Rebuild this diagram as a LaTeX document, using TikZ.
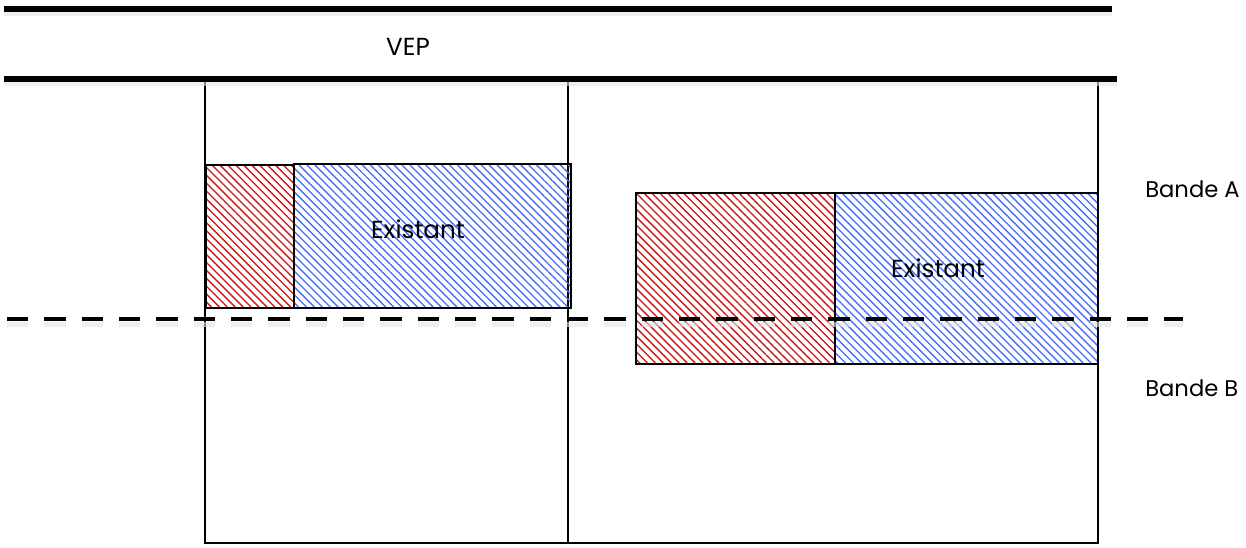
\documentclass[tikz,border=0pt]{standalone}
\usepackage{fontspec}
\setmainfont{Poppins}
\usetikzlibrary{patterns.meta}
\definecolor{hred}{RGB}{205,20,20}
\definecolor{hblue}{RGB}{70,110,250}
\tikzset{
  lot/.style={draw=black, line width=1.2pt},
  redzone/.style={draw=black, line width=1.3pt, pattern={Lines[angle=-45,distance=4.2pt,line width=1pt]}, pattern color=hred},
  bluezone/.style={draw=black, line width=1.3pt, pattern={Lines[angle=-45,distance=4.2pt,line width=1pt]}, pattern color=hblue},
  road/.style={line width=4pt, black},
  shadowline/.style={line width=4pt, black!10, opacity=0.6},
  limit/.style={line width=3.4pt, dash pattern=on 16pt off 12pt, black},
  lbl/.style={font=\fontsize{18.5pt}{20pt}\selectfont, inner sep=0pt},
  sidelbl/.style={font=\fontsize{17pt}{19pt}\selectfont, inner sep=0pt, anchor=west}
}
\begin{document}
\begin{tikzpicture}[x=0.75pt,y=-0.75pt]
\useasboundingbox (0,0) rectangle (1246,547);
% lots
\draw[lot] (205,79) rectangle (568,543);
\draw[lot] (568,79) rectangle (1098,543);
% zones
\node[redzone, minimum width=66pt, minimum height=107.25pt, inner sep=0pt, anchor=north west] (r1) at (205,164) {};
\node[bluezone, minimum width=207.75pt, minimum height=108pt, inner sep=0pt, anchor=north west] (b1) at (293,163) {};
\node[lbl] (e1) at (418,229) {Existant};
\node[redzone, minimum width=149.25pt, minimum height=128.25pt, inner sep=0pt, anchor=north west] (r2) at (635,192) {};
\node[bluezone, minimum width=197.25pt, minimum height=128.25pt, inner sep=0pt, anchor=north west] (b2) at (834,192) {};
\node[lbl] (e2) at (938,268) {Existant};
% roads
\coordinate (t1) at (4,9); \coordinate (t2) at (1112,9);
\coordinate (v1) at (4,79); \coordinate (v2) at (1117,79);
\draw[shadowline] ([yshift=-3pt]t1) -- ([yshift=-3pt]t2);
\draw[shadowline] ([yshift=-3pt]v1) -- ([yshift=-3pt]v2);
\draw[road] (t1) -- (t2);
\draw[road] (v1) -- (v2);
\node[lbl] (vep) at (408,47) {VEP};
% limit line
\coordinate (d1) at (7,319); \coordinate (d2) at (1183,319);
\draw[limit, black!10, opacity=0.6] ([yshift=-4pt]d1) -- ([yshift=-4pt]d2);
\draw[limit] (d1) -- (d2);
% labels
\node[sidelbl] (ba) at (1145,189) {Bande A};
\node[sidelbl] (bb) at (1145,388) {Bande B};
\end{tikzpicture}
\end{document}
